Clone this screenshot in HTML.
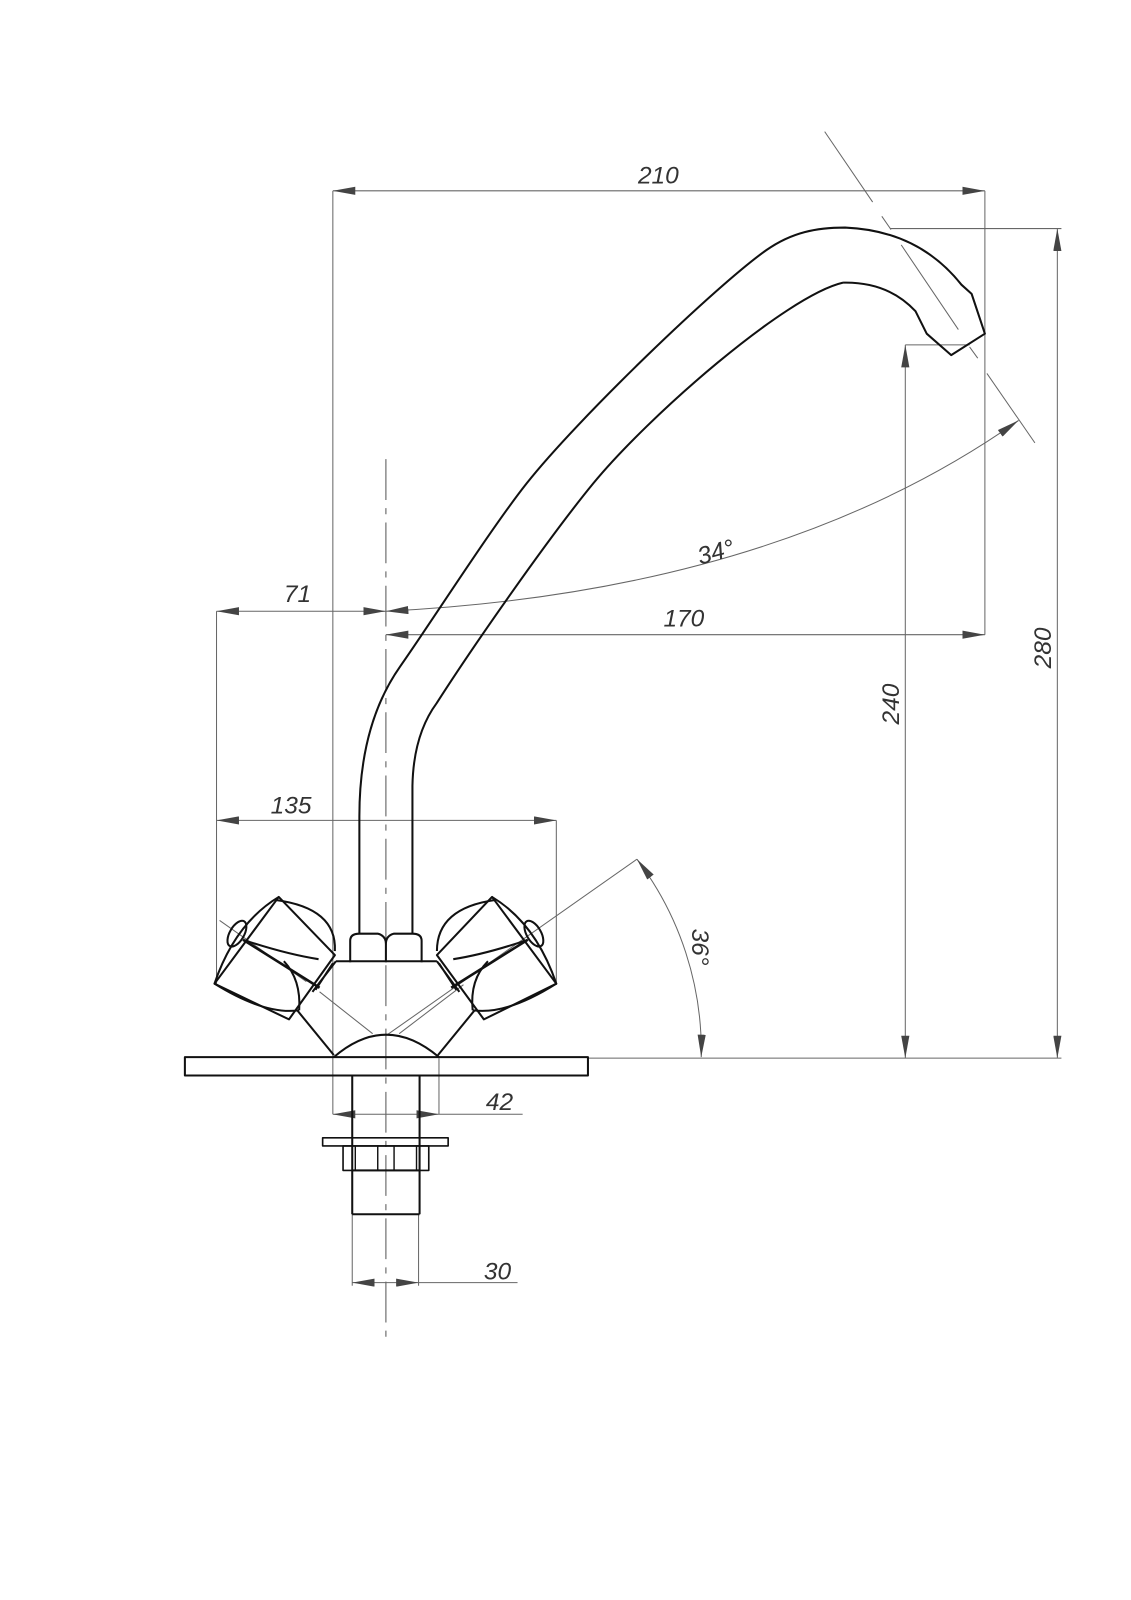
<!DOCTYPE html>
<html><head><meta charset="utf-8"><style>
html,body{margin:0;padding:0;background:#fff}
svg{display:block}
text{font-family:"Liberation Sans",sans-serif;font-style:italic;font-size:24px;fill:#333}
</style></head><body>
<svg width="1131" height="1600" viewBox="0 0 1108 1568" xmlns="http://www.w3.org/2000/svg">
<defs>
<marker id="a" viewBox="0 0 22 8" refX="22" refY="4" markerWidth="22" markerHeight="8" markerUnits="userSpaceOnUse" orient="auto-start-reverse">
<path d="M0,0 L22,4 L0,8 Z" fill="#444"/>
</marker>
</defs>
<g fill="none" stroke="#666" stroke-width="1">
<line x1="378" y1="450" x2="378" y2="1316" stroke-dasharray="40,8,6,8" stroke="#555"/>
<line x1="326" y1="187" x2="965" y2="187" marker-start="url(#a)" marker-end="url(#a)"/>
<line x1="326" y1="187" x2="326" y2="1092"/>
<line x1="965" y1="187" x2="965" y2="622"/>
<line x1="872" y1="224" x2="1040" y2="224"/>
<line x1="1036" y1="224" x2="1036" y2="1037" marker-start="url(#a)" marker-end="url(#a)"/>
<line x1="887" y1="338" x2="950" y2="338"/>
<line x1="887" y1="338" x2="887" y2="1037" marker-start="url(#a)" marker-end="url(#a)"/>
<line x1="576" y1="1037" x2="1040" y2="1037"/>
<line x1="212" y1="599" x2="378" y2="599" marker-start="url(#a)" marker-end="url(#a)"/>
<line x1="212" y1="599" x2="212" y2="965"/>
<line x1="378" y1="622" x2="965" y2="622" marker-start="url(#a)" marker-end="url(#a)"/>
<path d="M378,599 Q760,580 998,412" marker-start="url(#a)" marker-end="url(#a)"/>
<line x1="808" y1="129" x2="855" y2="198"/>
<line x1="864" y1="212" x2="873" y2="225"/>
<line x1="883" y1="240" x2="939" y2="323"/>
<line x1="950" y1="340" x2="958" y2="351"/>
<line x1="967" y1="366" x2="1014" y2="434"/>
<line x1="212" y1="804" x2="545" y2="804" marker-start="url(#a)" marker-end="url(#a)"/>
<line x1="545" y1="804" x2="545" y2="965"/>
<line x1="378" y1="1015" x2="624" y2="842"/>
<path d="M624,842 A310,310 0 0 1 687,1036" marker-start="url(#a)" marker-end="url(#a)"/>
<line x1="215" y1="902" x2="300" y2="962"/>
<line x1="313" y1="972" x2="365" y2="1013"/>
<line x1="391" y1="1013" x2="454" y2="965"/>
<line x1="326" y1="1092" x2="430" y2="1092" marker-start="url(#a)" marker-end="url(#a)"/>
<line x1="430" y1="1092" x2="512" y2="1092"/>
<line x1="430" y1="1037" x2="430" y2="1092"/>
<line x1="345" y1="1190" x2="345" y2="1260"/>
<line x1="410" y1="1190" x2="410" y2="1260"/>
<line x1="345" y1="1257" x2="410" y2="1257" marker-start="url(#a)" marker-end="url(#a)"/>
<line x1="410" y1="1257" x2="507" y2="1257"/>
</g>
<g fill="none" stroke="#111" stroke-width="2" stroke-linejoin="round">
<path d="M352,915 L352,800 Q352,710 391.9,653.2 C423.8,607.8 480.5,518.5 516,473.6 C565.7,410.7 702.3,279.2 751,245 C776,227.5 800,223 828,223 Q900,226 942,279 L952,288 L965,327 L932,348 L908,327 L897,305 Q870,276 826,277"/>
<path d="M404,915 L404,770 Q405,720 427.8,689 C463,634 536.4,528.3 581.3,473.6 C635.2,408 770,290 826,277"/>
<path d="M343,943 L343,922 Q343,915 352,915 L370,915 Q378,917 378,925 Q378,917 386,915 L404,915 Q413,915 413,922 L413,943"/>
<line x1="378" y1="925" x2="378" y2="943"/>
<path d="M329,942 L428,942"/>
<path d="M329,942 L306,972 M309,970 L326,944"/>
<path d="M428,942 L450,972 M447,970 L430,944"/>
<path d="M291,990 L327,1034"/>
<path d="M465,990 L429,1034"/>
<path d="M327,1036 Q378,992 430,1036"/>
<path d="M273,879 L328,936 L283,999 L210,964 Z"/>
<path d="M273,879 Q230,905 210,964"/>
<path d="M270,882 Q330,890 328,932"/>
<path d="M238,921 Q280,935 312,940"/>
<path d="M238,921 L313,968" stroke-width="2.5"/>
<path d="M278,942 Q295,960 293,990"/>
<path d="M210,964 Q260,995 293,990"/>
<ellipse cx="232" cy="915" rx="7" ry="14" transform="rotate(30 232 915)"/>
<path d="M482,879 L428,936 L474,999 L545,964 Z"/>
<path d="M482,879 Q525,905 545,964"/>
<path d="M485,882 Q428,890 428,932"/>
<path d="M517,921 Q476,935 444,940"/>
<path d="M517,921 L442,968" stroke-width="2.5"/>
<path d="M478,942 Q460,960 463,990"/>
<path d="M545,964 Q496,995 463,990"/>
<ellipse cx="523" cy="915" rx="7" ry="14" transform="rotate(-30 523 915)"/>
<rect x="181" y="1036" width="395" height="18"/>
<line x1="345" y1="1054" x2="345" y2="1190"/>
<line x1="411" y1="1054" x2="411" y2="1190"/>
<line x1="345" y1="1190" x2="411" y2="1190"/>
<line x1="345" y1="1147" x2="411" y2="1147"/>
<rect x="316" y="1115" width="123" height="8" stroke-width="1.6"/>
<rect x="336" y="1123" width="84" height="24" stroke-width="1.6"/>
<line x1="348" y1="1123" x2="348" y2="1147" stroke-width="1.4"/>
<line x1="370" y1="1123" x2="370" y2="1147" stroke-width="1.4"/>
<line x1="386" y1="1123" x2="386" y2="1147" stroke-width="1.4"/>
<line x1="408" y1="1123" x2="408" y2="1147" stroke-width="1.4"/>
</g>
<text x="625" y="180">210</text>
<text x="278" y="590">71</text>
<text x="650" y="614">170</text>
<text x="683" y="548" transform="rotate(-15 705 540)">34°</text>
<text x="265" y="797">135</text>
<text x="476" y="1088">42</text>
<text x="474" y="1254">30</text>
<text transform="translate(881,710) rotate(-90)">240</text>
<text transform="translate(1030,655) rotate(-90)">280</text>
<text transform="translate(678,910) rotate(90)">36°</text>
</svg>
</body></html>
